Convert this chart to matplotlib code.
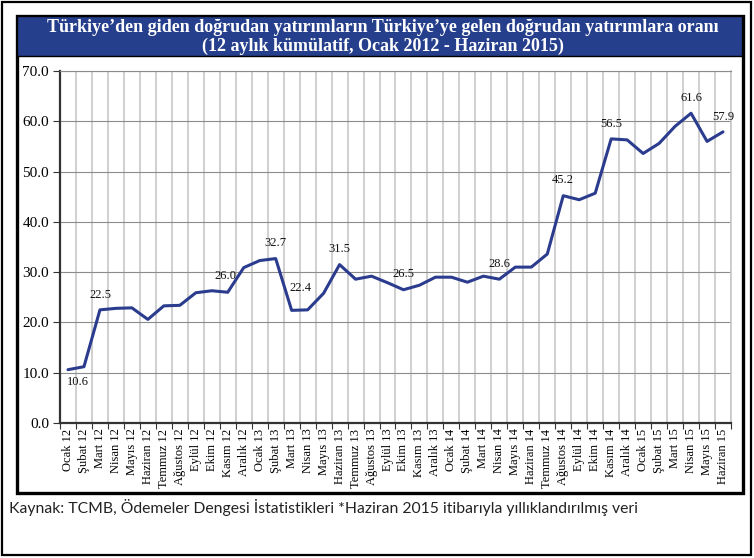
import numpy as np
import matplotlib
matplotlib.use('Agg')
from matplotlib import pyplot as plt
from matplotlib.patches import Rectangle
from matplotlib.ticker import FixedLocator

# data
months = ['Ocak', 'Şubat', 'Mart', 'Nisan', 'Mayıs', 'Haziran',
          'Temmuz', 'Ağustos', 'Eylül', 'Ekim', 'Kasım', 'Aralık']
years = ['12', '13', '14', '15']
n_points = 42
period_labels = [f'{months[i % 12]} {years[i // 12]}' for i in range(n_points)]

ratio = [10.6, 11.2, 22.5, 22.8, 22.9, 20.6, 23.3, 23.4, 25.9, 26.3, 26.0, 30.9,
         32.3, 32.7, 22.4, 22.5, 25.8, 31.5, 28.6, 29.2, 27.9, 26.5, 27.4, 29.0,
         29.0, 28.0, 29.2, 28.6, 31.0, 31.0, 33.6, 45.2, 44.4, 45.7, 56.5, 56.3,
         53.6, 55.6, 59.0, 61.6, 56.0, 57.9]

labelled = [0, 2, 10, 13, 14, 17, 21, 27, 31, 34, 39, 41]

title_1 = 'Türkiye’den giden doğrudan yatırımların Türkiye’ye gelen doğrudan yatırımlara oranı'
title_2 = '(12 aylık kümülatif, Ocak 2012 - Haziran 2015)'
caption = 'Kaynak: TCMB, Ödemeler Dengesi İstatistikleri *Haziran 2015 itibarıyla yıllıklandırılmış veri'

# style
W, H = 754, 558
line_color = '#2B3C8E'
title_bg = '#263F8C'
serif = 'Liberation Serif'

# label offsets in points (dx, dy), default above the point
label_offset = {0: (7, -9), 10: (-2, 12), 14: (6, 16)}


def px_box(x0, y0, x1, y1):
    # pixel box (top-left origin) -> figure fraction rect
    return [x0 / W, 1 - y1 / H, (x1 - x0) / W, (y1 - y0) / H]


fig = plt.figure(figsize=(W / 100, H / 100), dpi=100)

# outer frame, chart frame and title bar
for box, lw in [((2, 2, 751, 555), 1.6), ((17, 16, 743, 493), 2.4)]:
    r = px_box(*box)
    fig.patches.append(Rectangle((r[0], r[1]), r[2], r[3], transform=fig.transFigure,
                                 fill=False, edgecolor='black', lw=lw, zorder=0))
r = px_box(17, 16, 742, 56)
fig.patches.append(Rectangle((r[0], r[1]), r[2], r[3], transform=fig.transFigure,
                             facecolor=title_bg, edgecolor='black', lw=1.0, zorder=1))

fig.text(383 / W, 1 - 27 / H, title_1, color='white', fontweight='bold',
         family=serif, fontsize=13, ha='center', va='center')
fig.text(383 / W, 1 - 46 / H, title_2, color='white', fontweight='bold',
         family=serif, fontsize=13, ha='center', va='center')

ax = fig.add_axes(px_box(60, 71, 731, 423))
x = np.arange(n_points)
ax.plot(x, ratio, color=line_color, lw=2.2, solid_joinstyle='round',
        solid_capstyle='round', zorder=3)

for i in labelled:
    dx, dy = label_offset.get(i, (0, 11))
    ax.annotate(f'{ratio[i]:.1f}', (x[i], ratio[i]), xytext=(dx, dy),
                textcoords='offset points', ha='center', va='center',
                family=serif, fontsize=9, color='#111111')

ax.set_xlim(-0.5, n_points - 0.5)
ax.set_ylim(0, 70)
ax.set_yticks(np.arange(0, 71, 10))
ax.set_yticklabels([f'{v:.1f}' for v in np.arange(0, 71, 10)],
                   family=serif, fontsize=11)
ax.set_xticks(x)
ax.set_xticklabels(period_labels, rotation=90, family=serif, fontsize=9)
ax.xaxis.set_minor_locator(FixedLocator(np.arange(-0.5, n_points, 1.0)))

ax.tick_params(axis='x', which='major', length=0, pad=4)
ax.tick_params(axis='x', which='minor', length=4, width=0.8, color='#333333')
ax.tick_params(axis='y', length=5, width=0.8, color='#333333', pad=3)

ax.grid(axis='y', which='major', color='#8c8c8c', lw=0.8)
ax.grid(axis='x', which='minor', color='#c8c8c8', lw=1.2)
ax.set_axisbelow(True)

ax.spines['top'].set_color('#8c8c8c')
ax.spines['top'].set_linewidth(0.8)
ax.spines['right'].set_color('#c8c8c8')
ax.spines['right'].set_linewidth(1.2)
for s in ['left', 'bottom']:
    ax.spines[s].set_color('#333333')
    ax.spines[s].set_linewidth(1.6)

fig.text(9 / W, 1 - 507 / H, caption, family='Lato', fontsize=11.3,
         color='#222222', ha='left', va='center')

fig.savefig('out.png', dpi=100)
